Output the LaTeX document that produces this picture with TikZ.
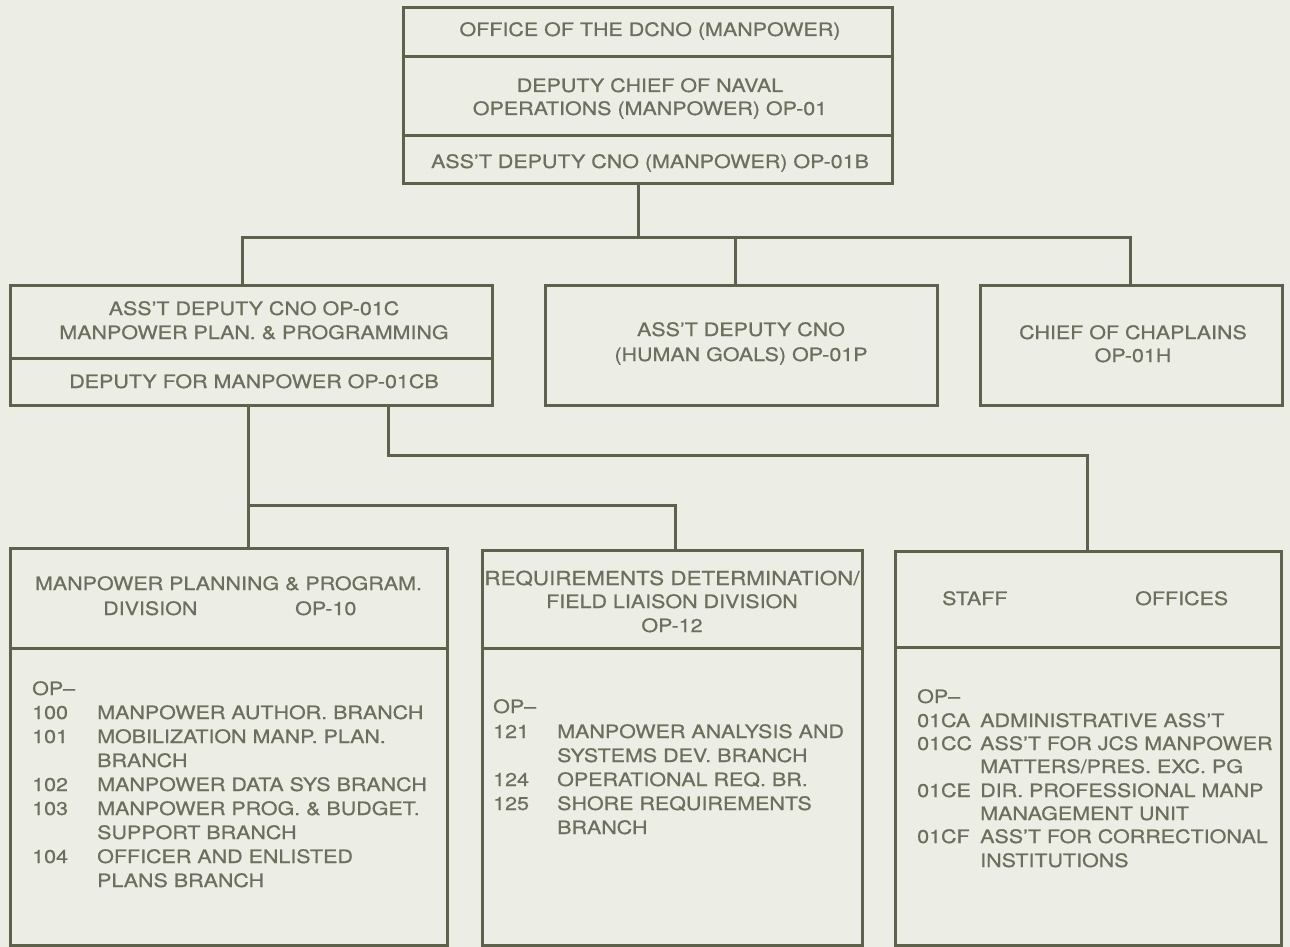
\documentclass[tikz,border=0pt]{standalone}
\usepackage{fontspec}
\setsansfont{TeX Gyre Heros}[FakeStretch=1.16,FakeBold=0.6]
\definecolor{bgc}{HTML}{ECEDE5}
\definecolor{linec}{HTML}{5E614C}
\definecolor{txtc}{HTML}{6C6F5C}
\begin{document}
\begin{tikzpicture}[x=1pt,y=-1pt,
  box/.style={draw=linec, line width=3pt, rectangle, inner sep=0pt},
  conn/.style={draw=linec, line width=3pt},
  txt/.style={font=\sffamily\fontsize{18.5}{23}\selectfont, text=txtc, inner sep=0pt, anchor=base},
  ltxt/.style={txt, anchor=base west}]
\fill[bgc] (0,0) rectangle (1290,947);
\useasboundingbox (0,0) rectangle (1290,947);

% boxes
\node[box, minimum width=489pt, minimum height=175pt] (top) at (647.5,95.5) {};
\node[box, minimum width=482pt, minimum height=120pt] (lm) at (251,345) {};
\node[box, minimum width=392pt, minimum height=120pt] (mm) at (741,345) {};
\node[box, minimum width=302pt, minimum height=120pt] (rm) at (1131,345) {};
\node[box, minimum width=437pt, minimum height=397pt] (bl) at (228.5,746.5) {};
\node[box, minimum width=380pt, minimum height=395pt] (bm) at (672,747.5) {};
\node[box, minimum width=386pt, minimum height=394pt] (br) at (1088,748) {};

% dividers
\draw[conn] (top.west |- 0,57) -- (top.east |- 0,57);
\draw[conn] (top.west |- 0,136) -- (top.east |- 0,136);
\draw[conn] (lm.west |- 0,358) -- (lm.east |- 0,358);
\draw[conn] (bl.west |- 0,648) -- (bl.east |- 0,648);
\draw[conn] (bm.west |- 0,648) -- (bm.east |- 0,648);
\draw[conn] (br.west |- 0,647) -- (br.east |- 0,647);

% connectors
\coordinate (j1) at (638,237);
\coordinate (b1) at (242,237);
\coordinate (b2) at (735,237);
\coordinate (b3) at (1130,237);
\draw[conn] (j1 |- top.south) -- (j1);
\draw[conn] (b1 |- lm.north) -- (b1) -- (b3) -- (b3 |- rm.north);
\draw[conn] (b2) -- (b2 |- mm.north);
\coordinate (d1) at (248,505);
\coordinate (d2) at (675,505);
\draw[conn] (d1 |- lm.south) -- (d1 |- bl.north);
\draw[conn] (d1) -- (d2) -- (d2 |- bm.north);
\coordinate (e1) at (388,455);
\coordinate (e2) at (1087,455);
\draw[conn] (e1 |- lm.south) -- (e1) -- (e2) -- (e2 |- br.north);

% top box text
\node[txt] (t1) at (650,36) {OFFICE OF THE DCNO (MANPOWER)};
\node[txt] (t2) at (650,92) {DEPUTY CHIEF OF NAVAL};
\node[txt] (t3) at (650,115) {OPERATIONS (MANPOWER) OP-01};
\node[txt] (t4) at (650,168) {ASS'T DEPUTY CNO (MANPOWER) OP-01B};

% middle row text
\node[txt] (l1) at (254,315) {ASS'T DEPUTY CNO OP-01C};
\node[txt] (l2) at (254,339) {MANPOWER PLAN. \& PROGRAMMING};
\node[txt] (l3) at (254,388) {DEPUTY FOR MANPOWER OP-01CB};
\node[txt] (m1) at (741,336) {ASS'T DEPUTY CNO};
\node[txt] (m2) at (741,361) {(HUMAN GOALS) OP-01P};
\node[txt] (r1) at (1133,339) {CHIEF OF CHAPLAINS};
\node[txt] (r2) at (1133,362) {OP-01H};

% bottom left
\node[txt] (bl1) at (228.5,590) {MANPOWER PLANNING \& PROGRAM.};
\node[ltxt] (bl2) at (103,615) {DIVISION};
\node[ltxt] (bl3) at (295,615) {OP-10};
\node[ltxt] (bln0) at (32,695) {OP–};
\node[ltxt] (bln1) at (32,719) {100};
\node[ltxt] (blt1) at (97,719) {MANPOWER AUTHOR. BRANCH};
\node[ltxt] (bln2) at (32,743) {101};
\node[ltxt] (blt2) at (97,743) {MOBILIZATION MANP. PLAN.};
\node[ltxt] (blt2b) at (97,767) {BRANCH};
\node[ltxt] (bln3) at (32,791) {102};
\node[ltxt] (blt3) at (97,791) {MANPOWER DATA SYS BRANCH};
\node[ltxt] (bln4) at (32,815) {103};
\node[ltxt] (blt4) at (97,815) {MANPOWER PROG. \& BUDGET.};
\node[ltxt] (blt4b) at (97,839) {SUPPORT BRANCH};
\node[ltxt] (bln5) at (32,863) {104};
\node[ltxt] (blt5) at (97,863) {OFFICER AND ENLISTED};
\node[ltxt] (blt5b) at (97,887) {PLANS BRANCH};

% bottom middle
\node[txt, font=\sffamily\fontsize{19.3}{23}\selectfont] (bm1) at (672,585) {REQUIREMENTS DETERMINATION/};
\node[txt] (bm2) at (672,608) {FIELD LIAISON DIVISION};
\node[txt] (bm3) at (672,632) {OP-12};
\node[ltxt] (bmn0) at (493,713) {OP–};
\node[ltxt] (bmn1) at (493,738) {121};
\node[ltxt] (bmt1) at (557,738) {MANPOWER ANALYSIS AND};
\node[ltxt] (bmt1b) at (557,762) {SYSTEMS DEV. BRANCH};
\node[ltxt] (bmn2) at (493,786) {124};
\node[ltxt] (bmt2) at (557,786) {OPERATIONAL REQ. BR.};
\node[ltxt] (bmn3) at (493,810) {125};
\node[ltxt] (bmt3) at (557,810) {SHORE REQUIREMENTS};
\node[ltxt] (bmt3b) at (557,834) {BRANCH};

% bottom right
\node[ltxt] (br1) at (942,605) {STAFF};
\node[ltxt] (br2) at (1135,605) {OFFICES};
\node[ltxt] (brn0) at (917,703) {OP–};
\node[ltxt] (brn1) at (917,727) {01CA};
\node[ltxt] (brt1) at (980,727) {ADMINISTRATIVE ASS'T};
\node[ltxt] (brn2) at (917,750) {01CC};
\node[ltxt] (brt2) at (980,750) {ASS'T FOR JCS MANPOWER};
\node[ltxt] (brt2b) at (980,773) {MATTERS/PRES. EXC. PG};
\node[ltxt] (brn3) at (917,797) {01CE};
\node[ltxt] (brt3) at (980,797) {DIR. PROFESSIONAL MANP};
\node[ltxt] (brt3b) at (980,820) {MANAGEMENT UNIT};
\node[ltxt] (brn4) at (917,843) {01CF};
\node[ltxt] (brt4) at (980,843) {ASS'T FOR CORRECTIONAL};
\node[ltxt] (brt4b) at (980,867) {INSTITUTIONS};
\end{tikzpicture}
\end{document}
